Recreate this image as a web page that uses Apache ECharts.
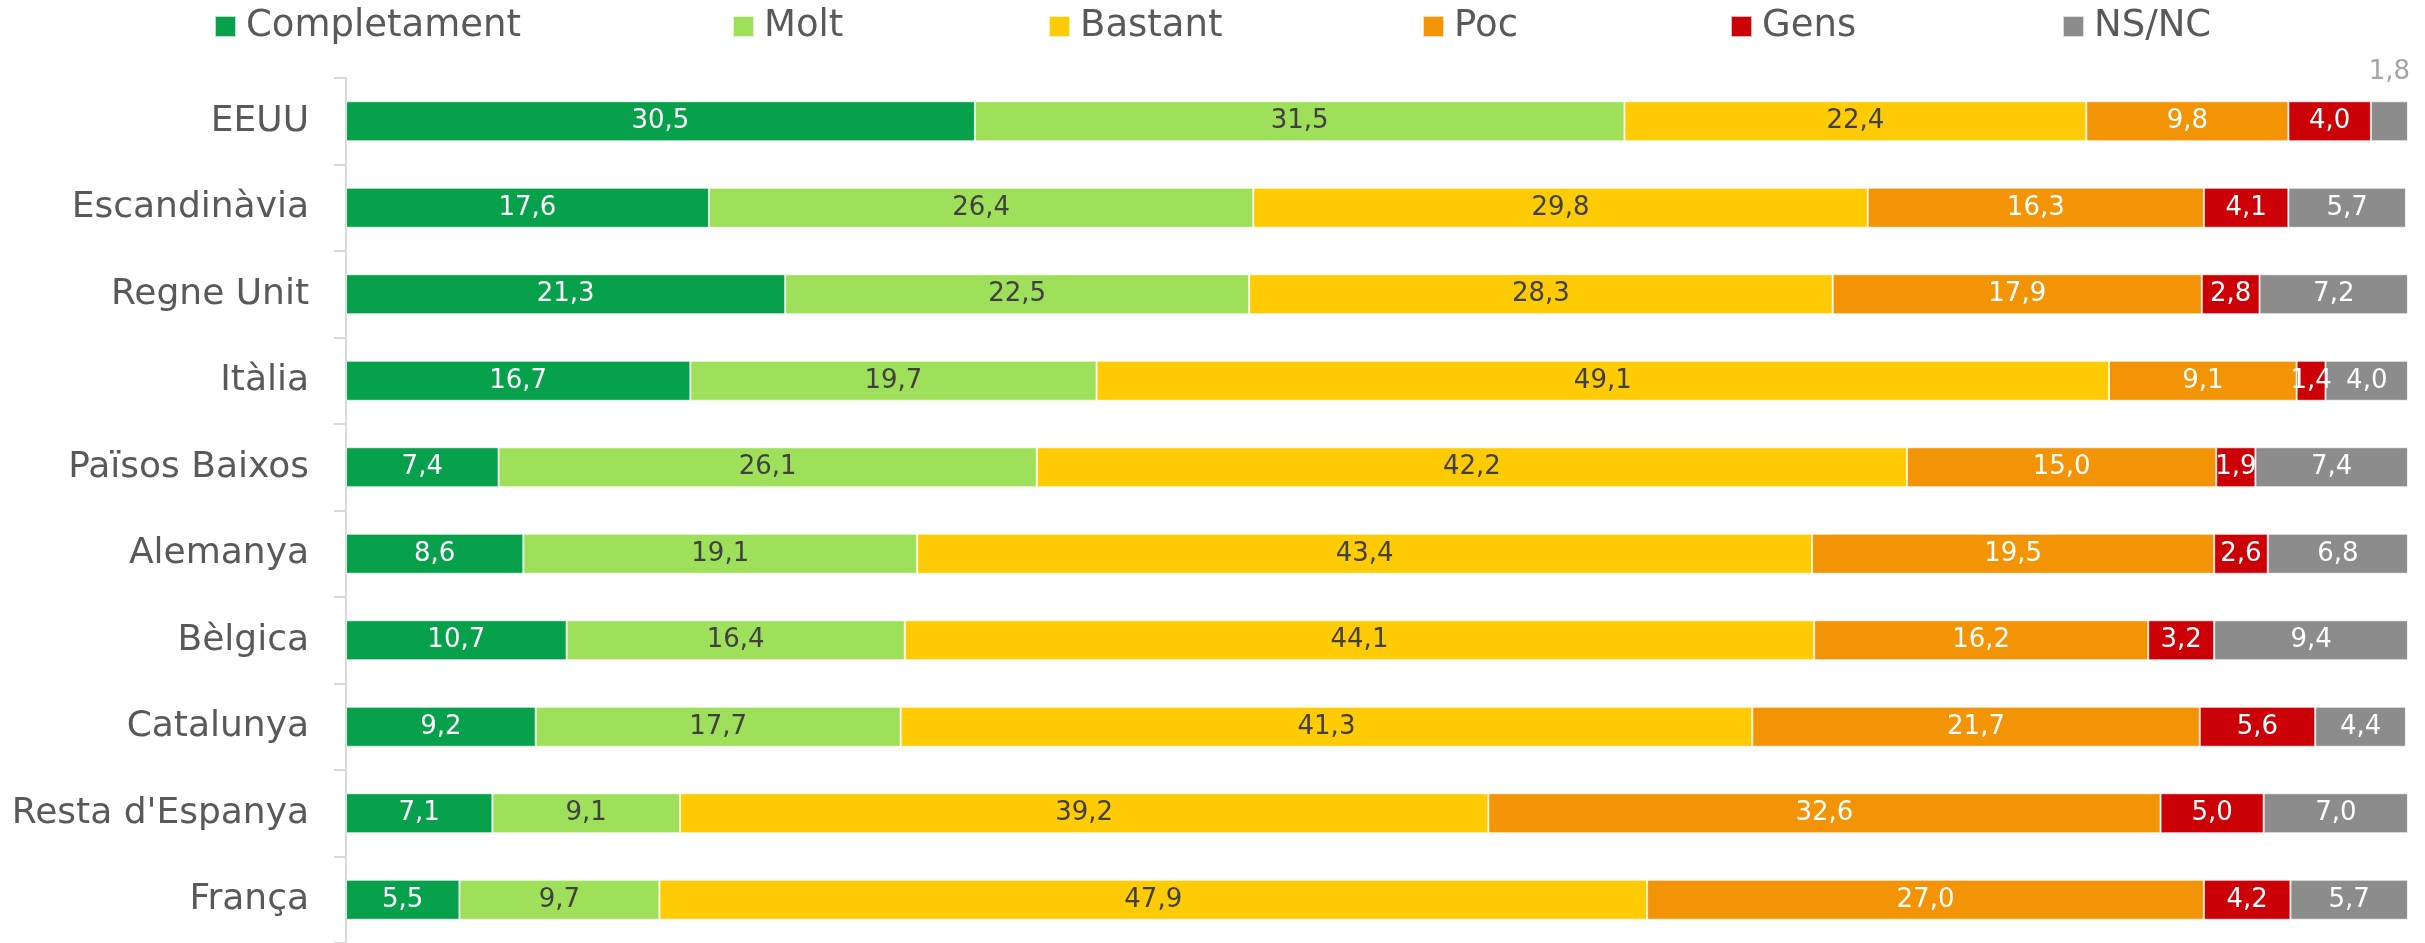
<!DOCTYPE html>
<html>
<head>
<meta charset="utf-8">
<script src="https://cdn.jsdelivr.net/npm/echarts@6/dist/echarts.min.js"></script>
<style>
  html, body { margin: 0; padding: 0; background: #ffffff; }
  #chart { width: 2425px; height: 943px; }
</style>
</head>
<body>
<div id="chart"></div>
<script>
// Regions, listed top to bottom
const categories = ['EEUU', 'Escandinàvia', 'Regne Unit', 'Itàlia', 'Països Baixos',
  'Alemanya', 'Bèlgica', 'Catalunya', "Resta d'Espanya", 'França'];

// Answer shares (%) per region, in the same order as categories
const completament = [30.5, 17.6, 21.3, 16.7, 7.4, 8.6, 10.7, 9.2, 7.1, 5.5];
const molt         = [31.5, 26.4, 22.5, 19.7, 26.1, 19.1, 16.4, 17.7, 9.1, 9.7];
const bastant      = [22.4, 29.8, 28.3, 49.1, 42.2, 43.4, 44.1, 41.3, 39.2, 47.9];
const poc          = [9.8, 16.3, 17.9, 9.1, 15.0, 19.5, 16.2, 21.7, 32.6, 27.0];
const gens         = [4.0, 4.1, 2.8, 1.4, 1.9, 2.6, 3.2, 5.6, 5.0, 4.2];
const nsnc         = [1.8, 5.7, 7.2, 4.0, 7.4, 6.8, 9.4, 4.4, 7.0, 5.7];

const seriesNames = ['Completament', 'Molt', 'Bastant', 'Poc', 'Gens', 'NS/NC'];
const seriesData = [completament, molt, bastant, poc, gens, nsnc];
const colors = ['#07a04b', '#9fe05a', '#ffcb05', '#f39306', '#cc0007', '#8c8c8c'];
const labelColors = ['#ffffff', '#404040', '#404040', '#ffffff', '#ffffff', '#ffffff'];
const legendLeft = [214, 732, 1048, 1422, 1730, 2062];

const FONT = '"DejaVu Sans", sans-serif';
const fmt = v => Number(v).toFixed(1).replace('.', ',');

const series = seriesNames.map((name, i) => ({
  name: name,
  type: 'bar',
  stack: 'total',
  barWidth: 40,
  itemStyle: { color: colors[i], borderColor: 'rgba(255,255,255,0.7)', borderWidth: 1 },
  label: {
    show: true,
    position: 'inside',
    color: labelColors[i],
    fontFamily: FONT,
    fontSize: 26,
    formatter: p => fmt(p.value)
  },
  data: seriesData[i].map((v, j) => {
    // the narrow NS/NC slice of the first row carries its label above the bar
    if (i === 5 && j === 0) {
      return { value: v, label: { position: 'top', distance: 16, color: '#a6a6a6' } };
    }
    return v;
  })
}));

const legends = seriesNames.map((name, i) => ({
  data: [name],
  left: legendLeft[i],
  top: 8,
  padding: 0,
  itemWidth: 21,
  itemHeight: 21,
  icon: 'rect',
  textStyle: { fontFamily: FONT, fontSize: 37, color: '#595959', padding: [0, 0, 0, 5] }
}));

const chart = echarts.init(document.getElementById('chart'), null, { renderer: 'canvas' });
chart.setOption({
  animation: false,
  backgroundColor: '#ffffff',
  color: colors,
  legend: legends,
  grid: { left: 346, right: 17, top: 78, height: 868, containLabel: false },
  xAxis: { type: 'value', min: 0, max: 100, show: false },
  yAxis: {
    type: 'category',
    inverse: true,
    data: categories,
    axisLine: { show: true, lineStyle: { color: '#d9d9d9', width: 2 } },
    axisTick: { show: true, length: 12, lineStyle: { color: '#d9d9d9', width: 2 } },
    axisLabel: { fontFamily: FONT, fontSize: 36, color: '#595959', margin: 37 },
    splitLine: { show: false }
  },
  series: series
});
</script>
</body>
</html>
